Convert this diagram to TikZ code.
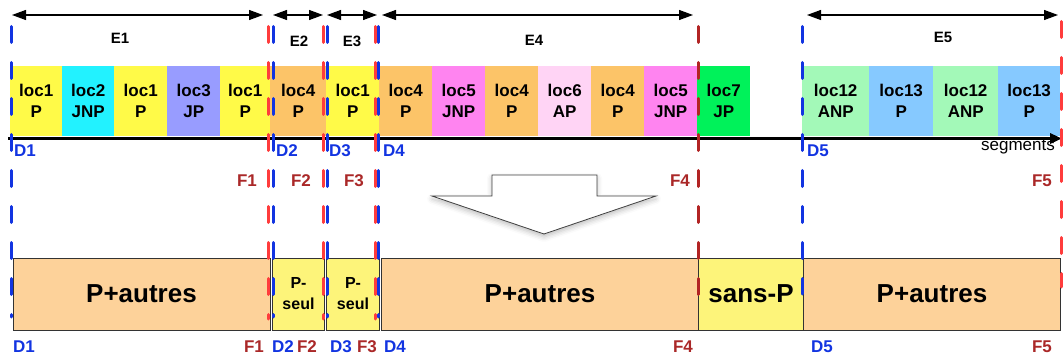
\documentclass[tikz,border=0pt]{standalone}
\usepackage{fontspec}
\setmainfont{Liberation Sans}
\usetikzlibrary{arrows.meta,shadows.blur}
\definecolor{cyel}{RGB}{255,250,72}
\definecolor{ccyan}{RGB}{34,242,255}
\definecolor{clav}{RGB}{152,156,255}
\definecolor{corg}{RGB}{252,196,104}
\definecolor{cpink}{RGB}{255,132,240}
\definecolor{clpink}{RGB}{255,212,245}
\definecolor{cgreen}{RGB}{0,242,90}
\definecolor{clgreen}{RGB}{163,249,184}
\definecolor{clblue}{RGB}{134,201,255}
\definecolor{borg}{RGB}{253,210,154}
\definecolor{byel}{RGB}{253,244,122}
\definecolor{dblue}{RGB}{18,52,225}
\definecolor{bred}{RGB}{255,60,60}
\definecolor{dred}{RGB}{178,36,36}
\definecolor{tred}{RGB}{170,40,40}
\tikzset{
  cell/.style={minimum height=70pt, inner sep=0pt, anchor=west, align=center,
    font=\fontsize{17}{21}\selectfont\bfseries},
  bbox/.style={draw=black!80, line width=1pt, inner sep=0pt, minimum height=72pt, anchor=west, align=center},
  big/.style={font=\fontsize{26}{30}\selectfont\bfseries},
  small/.style={font=\fontsize{16}{21}\selectfont\bfseries},
  dline/.style={line width=3pt, line cap=round, dash pattern=on 16pt off 20pt},
  span/.style={line width=1.1pt, {Triangle[length=14pt,width=10pt]}-{Triangle[length=14pt,width=10pt]}},
  elab/.style={font=\fontsize{15}{18}\selectfont\bfseries, inner sep=0pt},
  dlab/.style={font=\fontsize{17}{20}\selectfont\bfseries, text=dblue, inner sep=0pt},
  flab/.style={font=\fontsize{17}{20}\selectfont\bfseries, text=tred, inner sep=0pt},
}
\begin{document}
\begin{tikzpicture}[x=1pt,y=-1pt]
\useasboundingbox (0,0) rectangle (1064,358);
% top cells
\foreach \x/\w/\c/\t/\b/\n in {
  10/52/cyel/loc1/P/c1, 62/52/ccyan/loc2/JNP/c2, 114/53/cyel/loc1/P/c3,
  167/53/clav/loc3/JP/c4, 220/50/cyel/loc1/P/c5,
  270/56/corg/loc4/P/c6, 326/53/cyel/loc1/P/c7,
  379/53/corg/loc4/P/c8, 432/53/cpink/loc5/JNP/c9, 485/53/corg/loc4/P/c10,
  538/53/clpink/loc6/AP/c11, 591/53/corg/loc4/P/c12, 644/53/cpink/loc5/JNP/c13,
  697/53/cgreen/loc7/JP/c14,
  802/67/clgreen/loc12/ANP/c15, 869/64/clblue/loc13/P/c16,
  933/65/clgreen/loc12/ANP/c17, 998/62/clblue/loc13/P/c18}
  \node[cell, fill=\c, minimum width=\w pt] (\n) at (\x,101) {\t\\\b};
% axis
\coordinate (axL) at (8,138.5);
\coordinate (axR) at (1062,138.5);
\draw[line width=3.2pt, -{Triangle[length=12pt,width=10pt]}] (axL) -- (axR);
\node[anchor=base east, inner sep=0pt, font=\fontsize{17}{20}\selectfont] (seg) at (1055,151) {segments};
% span arrows
\foreach \n/\a/\b in {1/12/263, 2/273/323, 3/327/377, 4/382/693, 5/807/1058}{
  \coordinate (s\n l) at (\a,15);
  \coordinate (s\n r) at (\b,15);
  \draw[span] (s\n l) -- (s\n r);
}
\node[elab] (E1) at (120,38) {E1};
\node[elab] (E2) at (299,41) {E2};
\node[elab] (E3) at (352,41) {E3};
\node[elab] (E4) at (534,40) {E4};
\node[elab] (E5) at (943,37) {E5};
% hollow arrow
\draw[draw=black!75, fill=white, line width=0.8pt, line join=miter,
  blur shadow={shadow xshift=0pt, shadow yshift=-3pt, shadow blur radius=5pt, shadow opacity=25}]
  (492,175) -- (597,175) -- (597,196) -- (656,196) -- (544,234) -- (432,196) -- (492,196) -- cycle;
% bottom boxes
\node[bbox, fill=borg, big, minimum width=257pt] (b1) at (12.5,294) {P+autres};
\node[bbox, fill=byel, small, minimum width=52pt] (b2) at (272,294) {P-\\seul};
\node[bbox, fill=byel, small, minimum width=53pt] (b3) at (326,294) {P-\\seul};
\node[bbox, fill=borg, big, minimum width=317pt] (b4) at (381,294) {P+autres};
\node[bbox, fill=byel, big, minimum width=105pt] (b5) at (698,294) {sans-P};
\node[bbox, fill=borg, big, minimum width=257pt] (b6) at (803,294) {P+autres};
% dashed boundary lines
\draw[dline, dblue] (11,26.5) coordinate (d1t) -- (11,317) coordinate (d1b);
\draw[dline, bred] (268,26.5) coordinate (f1t) -- (268,319) coordinate (f1b);
\draw[dline, dblue] (273,26.5) coordinate (d2t) -- (273,317) coordinate (d2b);
\draw[dline, bred] (323,26.5) coordinate (f2t) -- (323,319) coordinate (f2b);
\draw[dline, dblue] (327,26.5) coordinate (d3t) -- (327,317) coordinate (d3b);
\draw[dline, bred] (375,26.5) coordinate (f3t) -- (375,319) coordinate (f3b);
\draw[dline, dblue] (378,26.5) coordinate (d4t) -- (378,317) coordinate (d4b);
\draw[dline, dred] (698,26.5) coordinate (f4t) -- (698,296) coordinate (f4b);
\draw[dline, dblue] (802,26.5) coordinate (d5t) -- (802,294) coordinate (d5b);
\draw[dline, bred] (1061,21.5) coordinate (f5t) -- (1061,287) coordinate (f5b);
% D / F labels (top)
\node[dlab] (D1a) at (25,151) {D1};
\node[dlab] (D2a) at (287,151) {D2};
\node[dlab] (D3a) at (340,151) {D3};
\node[dlab] (D4a) at (394,151) {D4};
\node[dlab] (D5a) at (818,151) {D5};
\node[flab] (F1a) at (247,181) {F1};
\node[flab] (F2a) at (301,181) {F2};
\node[flab] (F3a) at (354,181) {F3};
\node[flab] (F4a) at (680,181) {F4};
\node[flab] (F5a) at (1042,181) {F5};
% D / F labels (bottom)
\node[dlab] (D1b) at (24,347) {D1};
\node[flab] (F1b) at (254,347) {F1};
\node[dlab] (D2b) at (283,347) {D2};
\node[flab] (F2b) at (307,347) {F2};
\node[dlab] (D3b) at (341,347) {D3};
\node[flab] (F3b) at (367,347) {F3};
\node[dlab] (D4b) at (395,347) {D4};
\node[flab] (F4b) at (683,347) {F4};
\node[dlab] (D5b) at (822,347) {D5};
\node[flab] (F5b) at (1042,347) {F5};
\end{tikzpicture}
\end{document}
